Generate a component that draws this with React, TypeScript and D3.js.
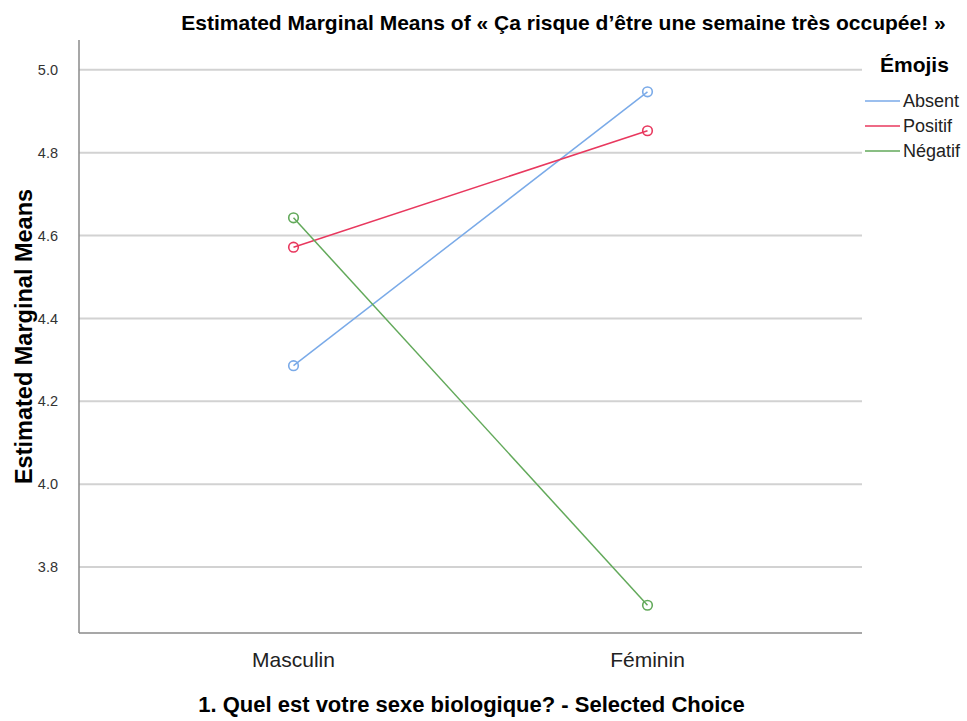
import React from 'react';
import * as d3 from 'd3';

// Data
const categories = ['Masculin', 'Féminin'];
const seriesNames = ['Absent', 'Positif', 'Négatif'];
const absentValues = [4.286, 4.947];
const positifValues = [4.572, 4.853];
const negatifValues = [4.643, 3.708];
const yTicks = [3.8, 4.0, 4.2, 4.4, 4.6, 4.8, 5.0];

const seriesColors: Record<string, string> = {
  Absent: '#7aaae8',
  Positif: '#e8385e',
  Négatif: '#62a95a',
};

const width = 967;
const height = 721;
const margin = { top: 40, right: 105, bottom: 88, left: 79 };
const font = 'Liberation Sans, Arial, sans-serif';

const App: React.FC = () => {
  const innerWidth = width - margin.left - margin.right;
  const innerHeight = height - margin.top - margin.bottom;

  const series = [
    { name: seriesNames[0], values: absentValues },
    { name: seriesNames[1], values: positifValues },
    { name: seriesNames[2], values: negatifValues },
  ];

  const xScale = d3.scalePoint<string>().domain(categories).range([0, innerWidth]).padding(0.606);
  const yScale = d3.scaleLinear().domain([3.641, 5.072]).range([innerHeight, 0]);

  const line = d3
    .line<number>()
    .x((_, i) => xScale(categories[i]) || 0)
    .y(d => yScale(d));

  return (
    <svg
      width={width}
      height={height}
      style={{ position: 'absolute', left: 0, top: 0, background: '#fff', fontFamily: font }}
    >
      {/* Title */}
      <text x={563.5} y={30} textAnchor="middle" fontSize={21} fontWeight="bold" fill="#000">
        Estimated Marginal Means of « Ça risque d’être une semaine très occupée! »
      </text>

      <g transform={`translate(${margin.left},${margin.top})`}>
        {/* Grid lines */}
        {yTicks.map(t => (
          <line key={t} x1={0} x2={innerWidth} y1={yScale(t)} y2={yScale(t)} stroke="#d2d2d2" strokeWidth={2} />
        ))}

        {/* Y tick labels */}
        {yTicks.map(t => (
          <text key={t} x={-21} y={yScale(t)} dy="0.35em" textAnchor="end" fontSize={14.5} fill="#333">
            {d3.format('.1f')(t)}
          </text>
        ))}

        {/* Axes */}
        <line x1={0} x2={0} y1={0} y2={innerHeight} stroke="#8a8a8a" strokeWidth={1.5} />
        <line x1={0} x2={innerWidth} y1={innerHeight} y2={innerHeight} stroke="#8a8a8a" strokeWidth={1.5} />

        {/* X tick labels */}
        {categories.map(c => (
          <text key={c} x={xScale(c) || 0} y={innerHeight + 34} textAnchor="middle" fontSize={21} fill="#222">
            {c}
          </text>
        ))}

        {/* Lines + markers */}
        {series.map(s => (
          <g key={s.name}>
            <path d={line(s.values) || ''} fill="none" stroke={seriesColors[s.name]} strokeWidth={1.5} />
            {s.values.map((v, i) => (
              <circle
                key={i}
                cx={xScale(categories[i]) || 0}
                cy={yScale(v)}
                r={4.8}
                fill="none"
                stroke={seriesColors[s.name]}
                strokeWidth={1.6}
              />
            ))}
          </g>
        ))}
      </g>

      {/* Axis titles */}
      <text
        transform={`translate(32,${margin.top + innerHeight / 2}) rotate(-90)`}
        textAnchor="middle"
        fontSize={23.5}
        fontWeight="bold"
        fill="#000"
      >
        Estimated Marginal Means
      </text>
      <text x={471.5} y={712} textAnchor="middle" fontSize={22} fontWeight="bold" fill="#000">
        1. Quel est votre sexe biologique? - Selected Choice
      </text>

      {/* Legend */}
      <text x={880} y={72} fontSize={21} fontWeight="bold" fill="#000">
        Émojis
      </text>
      {series.map((s, i) => (
        <g key={s.name} transform={`translate(865,${101 + i * 25})`}>
          <line x1={0} x2={35} y1={0} y2={0} stroke={seriesColors[s.name]} strokeWidth={1.5} />
          <text x={38} y={0} dy="0.35em" fontSize={18} fill="#222">
            {s.name}
          </text>
        </g>
      ))}
    </svg>
  );
};

export default App;
